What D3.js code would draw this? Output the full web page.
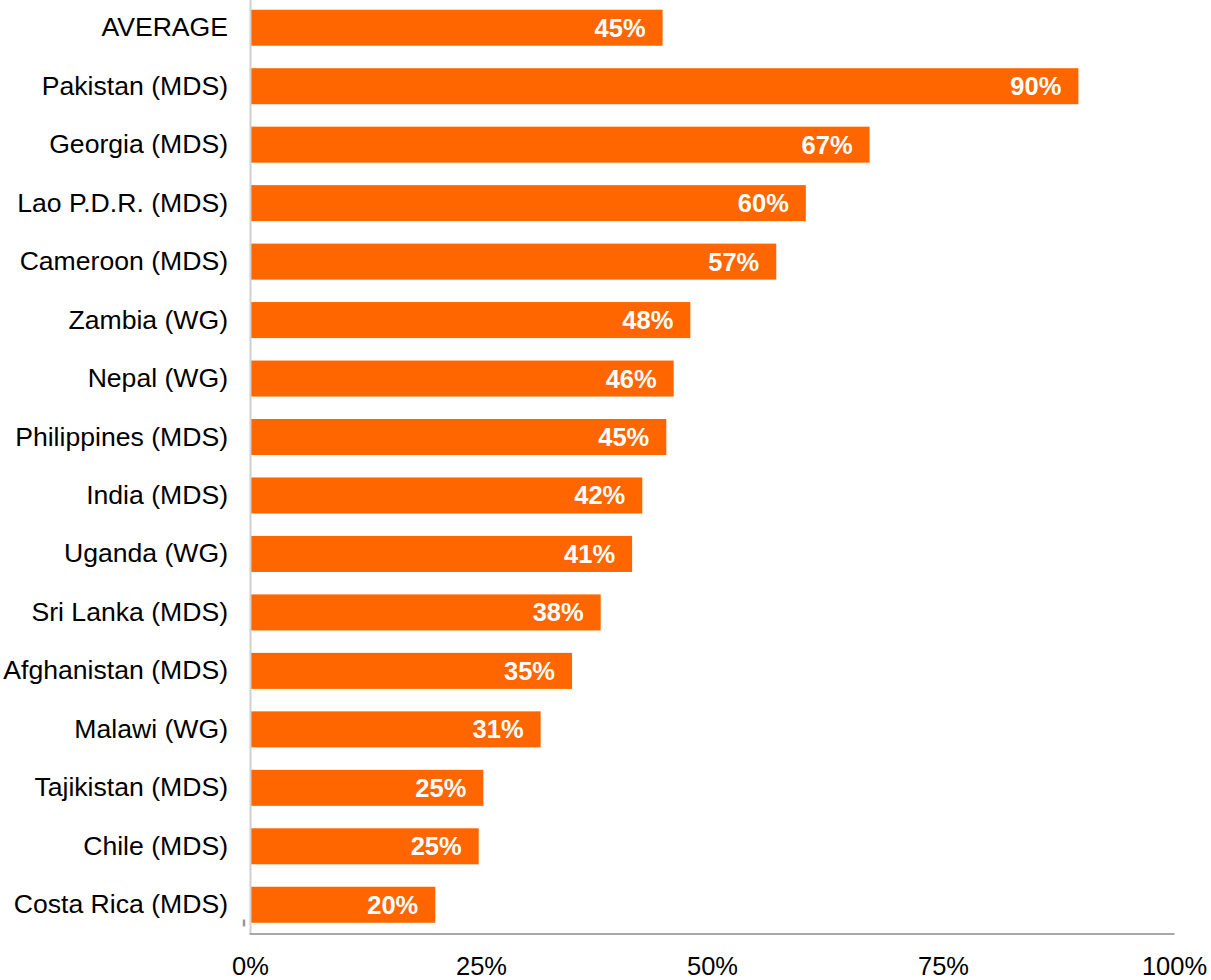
<!DOCTYPE html>
<html>
<head>
<meta charset="utf-8">
<script src="https://cdn.jsdelivr.net/npm/d3@7"></script>
<style>
  html, body { margin: 0; padding: 0; background: #fff; }
  svg { display: block; }
  text { font-family: "Liberation Sans", Arial, Helvetica, sans-serif; }
</style>
</head>
<body>
<svg id="chart" width="1211" height="980"></svg>
<script>
const categories = [
  "AVERAGE", "Pakistan (MDS)", "Georgia (MDS)", "Lao P.D.R. (MDS)", "Cameroon (MDS)",
  "Zambia (WG)", "Nepal (WG)", "Philippines (MDS)", "India (MDS)", "Uganda (WG)",
  "Sri Lanka (MDS)", "Afghanistan (MDS)", "Malawi (WG)", "Tajikistan (MDS)",
  "Chile (MDS)", "Costa Rica (MDS)"
];
const values = [44.6, 89.6, 67.0, 60.1, 56.9, 47.6, 45.8, 45.0, 42.4, 41.3, 37.9, 34.8, 31.4, 25.2, 24.7, 20.0];
const valueLabels = ["45%", "90%", "67%", "60%", "57%", "48%", "46%", "45%", "42%", "41%", "38%", "35%", "31%", "25%", "25%", "20%"];
const tickValues = [0, 25, 50, 75, 100];
const tickLabels = ["0%", "25%", "50%", "75%", "100%"];

const svg = d3.select("#chart");
const x = d3.scaleLinear().domain([0, 100]).range([250.5, 1174.5]);
const y = d3.scaleBand().domain(categories).range([-1.5, 934]).paddingInner(0.384).paddingOuter(0.192);

// bars
svg.append("g").selectAll("rect").data(values).join("rect")
  .attr("x", x(0))
  .attr("y", (d, i) => y(categories[i]))
  .attr("width", d => x(d) - x(0))
  .attr("height", y.bandwidth())
  .attr("fill", "#ff6600");

// value labels
svg.append("g").selectAll("text").data(values).join("text")
  .attr("x", d => x(d) - 17)
  .attr("y", (d, i) => y(categories[i]) + y.bandwidth() / 2 + 9)
  .attr("text-anchor", "end")
  .attr("fill", "#fff")
  .attr("font-weight", "bold")
  .attr("font-size", 25.5)
  .text((d, i) => valueLabels[i]);

// category labels
svg.append("g").selectAll("text").data(categories).join("text")
  .attr("x", 228)
  .attr("y", d => y(d) + y.bandwidth() / 2 + 8.5)
  .attr("text-anchor", "end")
  .attr("fill", "#000")
  .attr("font-size", 26.6)
  .text(d => d);

// axes lines
svg.append("line")
  .attr("x1", x(0)).attr("x2", x(0))
  .attr("y1", 0).attr("y2", 934)
  .attr("stroke", "#d0d0d0").attr("stroke-width", 2);
svg.append("line")
  .attr("x1", x(0) - 1).attr("x2", x(100))
  .attr("y1", 934).attr("y2", 934)
  .attr("stroke", "#a8a8a8").attr("stroke-width", 2);
svg.append("line")
  .attr("x1", 244).attr("x2", 244)
  .attr("y1", 919.5).attr("y2", 926.5)
  .attr("stroke", "#999").attr("stroke-width", 2.5);

// tick labels
svg.append("g").selectAll("text").data(tickValues).join("text")
  .attr("x", d => x(d))
  .attr("y", 975)
  .attr("text-anchor", "middle")
  .attr("fill", "#000")
  .attr("font-size", 25.5)
  .text((d, i) => tickLabels[i]);
</script>
</body>
</html>
